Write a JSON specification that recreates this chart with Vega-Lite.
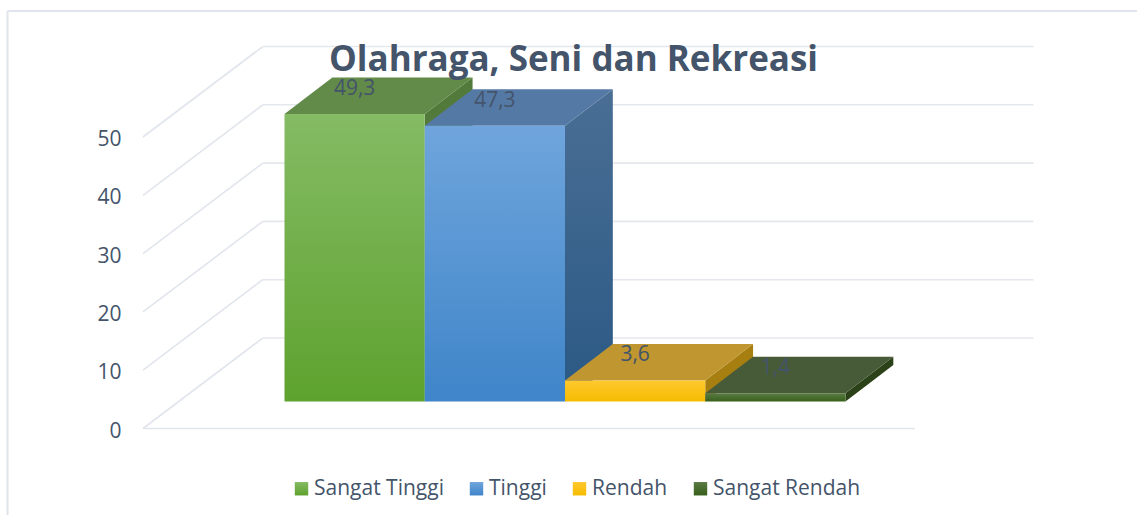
{
"$schema":"https://vega.github.io/schema/vega-lite/v6.json",
"width":1137,"height":515,"padding":0,"autosize":{"type":"none"},
"background":"white",
"view":{"stroke":null},
"title":{"text":"Olahraga, Seni dan Rekreasi","anchor":"middle","frame":"group","dx":5,"dy":106,"offset":0,"baseline":"alphabetic","font":"Open Sans","fontSize":35,"fontWeight":700,"color":"#44546A"},
"data":{"name":"bars","values":[
{"kategori":"Sangat Tinggi","nilai":49.3},
{"kategori":"Tinggi","nilai":47.3},
{"kategori":"Rendah","nilai":3.6},
{"kategori":"Sangat Rendah","nilai":1.4}]},
"encoding":{
"x":{"field":"x_pos","type":"quantitative","stack":null,"axis":null,"scale":{"domain":[-2.0285,6.0784],"nice":false,"zero":false}},
"y":{"field":"y_pos","type":"quantitative","stack":null,"scale":{"domain":[-14.837,73.499],"nice":false,"zero":false},
"axis":{"orient":"left","values":[0,10,20,30,40,50],"format":"d","title":null,"domain":false,"ticks":false,"grid":false,"offset":-121,"labelPadding":0,"labelOffset":2.5,"labelFont":"Open Sans","labelFontSize":21,"labelColor":"#44546A"}}
},
"layer":[
{"data":{"values":[{}]},
 "transform":[{"calculate":"-1.975","as":"x_pos"},{"calculate":"-14.84","as":"y_pos"},{"calculate":"71.61","as":"y2_pos"}],
 "mark":{"type":"rule","stroke":"#E0E4EC","strokeWidth":2},
 "encoding":{"y2":{"field":"y2_pos"}}},
{"data":{"values":[{}]},
 "transform":[{"calculate":"-1.975","as":"x_pos"},{"calculate":"6.08","as":"x2_pos"},{"calculate":"71.61","as":"y_pos"}],
 "mark":{"type":"rule","stroke":"#E0E4EC","strokeWidth":2},
 "encoding":{"x2":{"field":"x2_pos"}}},
{"data":{"values":[{"v":0},{"v":10},{"v":20},{"v":30},{"v":40},{"v":50}]},
 "transform":[{"calculate":"-1.009","as":"x_pos"},{"calculate":"-0.155","as":"x2_pos"},{"calculate":"datum.v","as":"y_pos"},{"calculate":"datum.v+15.52","as":"y2_pos"}],
 "mark":{"type":"rule","stroke":"#E1E5EC","strokeWidth":1.6},
 "encoding":{"x2":{"field":"x2_pos"},"y2":{"field":"y2_pos"}}},
{"data":{"values":[{"v":0},{"v":10},{"v":20},{"v":30},{"v":40},{"v":50}]},
 "transform":[{"calculate":"-0.155","as":"x_pos"},{"calculate":"5.34","as":"x2_pos"},{"calculate":"datum.v+15.52","as":"y_pos"}],
 "mark":{"type":"rule","stroke":"#E4E7ED","strokeWidth":1.6},
 "encoding":{"x2":{"field":"x2_pos"}}},
{"data":{"values":[{"v":0}]},
 "transform":[{"calculate":"-1.009","as":"x_pos"},{"calculate":"4.495","as":"x2_pos"},{"calculate":"datum.v","as":"y_pos"}],
 "mark":{"type":"rule","stroke":"#E1E5EC","strokeWidth":1.6},
 "encoding":{"x2":{"field":"x2_pos"}}},
{"transform":[
 {"calculate":"indexof(['Sangat Tinggi','Tinggi','Rendah','Sangat Rendah'],datum.kategori)","as":"idx"},
 {"calculate":"[0,1]","as":"t"},{"flatten":["t"]},
 {"calculate":"datum.idx+1+datum.t*0.341","as":"x_pos"},
 {"calculate":"4.63+datum.nilai+datum.t*6.26","as":"y_pos"},
 {"calculate":"4.63+datum.t*6.26","as":"y2_pos"}],
 "mark":{"type":"area","orient":"vertical"},
 "encoding":{"detail":{"field":"kategori"},"y2":{"field":"y2_pos"},
 "fill":{"condition":[
  {"test":"datum.kategori==='Sangat Tinggi'","value":"#527A3A"},
  {"test":"datum.kategori==='Tinggi'","value":{"gradient":"linear","x1":0,"y1":0,"x2":0,"y2":1,"stops":[{"offset":0,"color":"#4A6E94"},{"offset":1,"color":"#2A5985"}]}},
  {"test":"datum.kategori==='Rendah'","value":"#A67F10"}],
  "value":"#2B4218"}}},
{"transform":[
 {"calculate":"indexof(['Sangat Tinggi','Tinggi','Rendah','Sangat Rendah'],datum.kategori)","as":"idx"},
 {"calculate":"[0,1]","as":"t"},{"flatten":["t"]},
 {"calculate":"datum.idx+datum.t*0.341","as":"x_pos"},
 {"calculate":"datum.idx+1+datum.t*0.341","as":"x2_pos"},
 {"calculate":"4.63+datum.nilai+datum.t*6.26","as":"y_pos"}],
 "mark":{"type":"area","orient":"horizontal"},
 "encoding":{"detail":{"field":"kategori"},"x2":{"field":"x2_pos"},
 "fill":{"condition":[
  {"test":"datum.kategori==='Sangat Tinggi'","value":"#628A48"},
  {"test":"datum.kategori==='Tinggi'","value":"#5579A5"},
  {"test":"datum.kategori==='Rendah'","value":"#BF9630"}],
  "value":"#485B38"}}},
{"transform":[
 {"calculate":"indexof(['Sangat Tinggi','Tinggi','Rendah','Sangat Rendah'],datum.kategori)","as":"idx"},
 {"calculate":"datum.idx","as":"x_pos"},
 {"calculate":"datum.idx+1","as":"x2_pos"},
 {"calculate":"4.63+datum.nilai","as":"y_pos"},
 {"calculate":"4.63","as":"y2_pos"}],
 "mark":{"type":"rect"},
 "encoding":{"x2":{"field":"x2_pos"},"y2":{"field":"y2_pos"},
 "fill":{"field":"kategori","type":"nominal",
  "scale":{"domain":["Sangat Tinggi","Tinggi","Rendah","Sangat Rendah"],"range":[
   {"signal":"{gradient:'linear',x1:0,y1:0,x2:0,y2:1,stops:[{offset:0,color:'#84BB64'},{offset:1,color:'#5EA22E'}]}"},
   {"signal":"{gradient:'linear',x1:0,y1:0,x2:0,y2:1,stops:[{offset:0,color:'#6FA5DC'},{offset:1,color:'#3F85C9'}]}"},
   {"signal":"{gradient:'linear',x1:0,y1:0,x2:0,y2:1,stops:[{offset:0,color:'#FFC82E'},{offset:1,color:'#F5BC00'}]}"},
   {"signal":"{gradient:'linear',x1:0,y1:0,x2:0,y2:1,stops:[{offset:0,color:'#5B7A45'},{offset:1,color:'#37601A'}]}"}]},
  "legend":{"title":null,"orient":"none","legendX":291,"legendY":478,"direction":"horizontal","columns":4,"padding":0,"columnPadding":22,"symbolType":"square","symbolSize":180,"symbolStrokeWidth":0,"labelOffset":2,"labelFont":"Open Sans","labelFontSize":21,"labelColor":"#44546A"}}}},
{"transform":[
 {"calculate":"indexof(['Sangat Tinggi','Tinggi','Rendah','Sangat Rendah'],datum.kategori)","as":"idx"},
 {"calculate":"datum.idx+0.5","as":"x_pos"},
 {"calculate":"4.63+datum.nilai+4.3","as":"y_pos"},
 {"calculate":"replace(format(datum.nilai,'.1f'),'.',',')","as":"teks"}],
 "mark":{"type":"text","font":"Open Sans","fontSize":21,"color":"#44546A","align":"center","baseline":"middle"},
 "encoding":{"text":{"field":"teks","type":"nominal"}}}
]
}
